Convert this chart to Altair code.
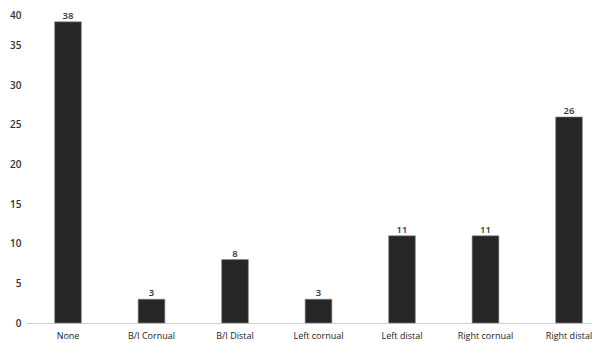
import altair as alt
import pandas as pd

categories = ["None", "B/I Cornual", "B/I Distal", "Left cornual", "Left distal", "Right cornual", "Right distal"]
values = [38, 3, 8, 3, 11, 11, 26]
y_ticks = [0, 5, 10, 15, 20, 25, 30, 35, 40]

df = pd.DataFrame({"cat": categories, "val": values})

x = alt.X("cat:N", sort=categories, title=None,
          scale=alt.Scale(range=[0, 585], paddingInner=0.68, paddingOuter=0.343),
          axis=alt.Axis(labelAngle=0, labelFont="Open Sans", labelFontSize=9, labelColor="#222222",
                        labelPadding=8, ticks=False, grid=False, domainColor="#d0d0d0", domainWidth=1))
y = alt.Y("val:Q", title=None,
          scale=alt.Scale(domain=[0, 40], range=[315, -2], nice=False),
          axis=alt.Axis(values=y_ticks, grid=False, domain=False, ticks=False, labelOverlap=False,
                        labelFont="Open Sans", labelFontSize=10, labelFontWeight=600,
                        labelColor="#333333", labelPadding=5,
                        labelOffset={"condition": {"test": "datum.value == 40", "value": 9}, "value": 0}))

base = alt.Chart(df).encode(x=x, y=y)
bars = base.mark_bar(color="#262626", stroke="#8a8a8a", strokeWidth=0.6)
text = base.mark_text(baseline="bottom", dy=-1, font="Open Sans", fontSize=9.5, fontWeight=600,
                      color="#333333").encode(text="val:Q")

chart = alt.layer(bars, text).properties(
    width=566, height=315,
    background="white",
    autosize=alt.AutoSizeParams(type="none"),
    padding={"left": 18, "top": 0, "right": 0, "bottom": 20},
).configure_view(strokeWidth=0, stroke="transparent")

chart.save("out.html", embed_options={"renderer": "svg", "actions": False})
